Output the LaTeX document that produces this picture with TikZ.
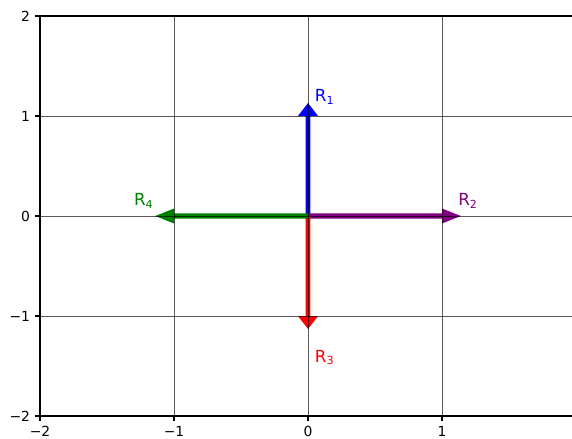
\documentclass[tikz,border=0pt]{standalone}
\usepackage{fontspec}
\setmainfont{DejaVu Sans}
\tikzset{
  rejilla/.style={black,opacity=0.65,line width=0.5pt},
  marco/.style={black,line width=0.8pt},
  marca/.style={font=\fontsize{10}{12}\selectfont,inner sep=0pt},
  etiqueta/.style={font=\fontsize{12}{14}\selectfont,inner sep=0pt,anchor=base west},
}
\definecolor{mplgreen}{RGB}{0,128,0}
\definecolor{mplpurple}{RGB}{128,0,128}
\begin{document}
\begin{tikzpicture}[x=96.48pt,y=72pt]
\useasboundingbox (-2.2985,-2.22) rectangle (1.9701,2.16);

\coordinate (O) at (0,0);

% Vector R1 (hacia arriba)
\fill[blue] (-0.018,0) -- (-0.018,1) -- (-0.075,1) -- (0,1.13) -- (0.075,1) -- (0.018,1) -- (0.018,0) -- cycle;
\node[etiqueta,blue] (r1) at (0.05,1.14) {R\textsubscript{1}};

% Vector R2 (hacia la derecha)
\fill[mplpurple] (0,-0.026) -- (1,-0.026) -- (1,-0.075) -- (1.14,0) -- (1,0.075) -- (1,0.026) -- (0,0.026) -- cycle;
\node[etiqueta,mplpurple] (r2) at (1.12,0.105) {R\textsubscript{2}};

% Vector R3 (hacia abajo)
\fill[red] (-0.018,0) -- (-0.018,-1) -- (-0.075,-1) -- (0,-1.13) -- (0.075,-1) -- (0.018,-1) -- (0.018,0) -- cycle;
\node[etiqueta,red] (r3) at (0.05,-1.46) {R\textsubscript{3}};

% Vector R4 (hacia la izquierda)
\fill[mplgreen] (0,-0.026) -- (-1,-0.026) -- (-1,-0.075) -- (-1.14,0) -- (-1,0.075) -- (-1,0.026) -- (0,0.026) -- cycle;
\node[etiqueta,mplgreen] (r4) at (-1.3,0.105) {R\textsubscript{4}};

% Rejilla
\foreach \k in {-1,0,1} {
  \draw[rejilla] (\k,-2) -- (\k,2);
  \draw[rejilla] (-2,\k) -- (2,\k);
}

% Ejes
\draw[marco] (-2,2) -- (-2,-2) -- (2,-2);
\draw[marco] (-2,2) -- (2,2);

% Marcas eje x
\foreach \k/\t in {-2/−2,-1/−1,0/0,1/1} {
  \draw[marco] (\k,-2) -- ++(0,-3.5pt);
  \node[marca,anchor=north] at ([yshift=-7pt]\k,-2) {\t};
}

% Marcas eje y
\foreach \k/\t in {-2/−2,-1/−1,0/0,1/1,2/2} {
  \draw[marco] (-2,\k) -- ++(-3.5pt,0);
  \node[marca,anchor=east] at ([xshift=-7pt]-2,\k) {\t};
}

\end{tikzpicture}
\end{document}
